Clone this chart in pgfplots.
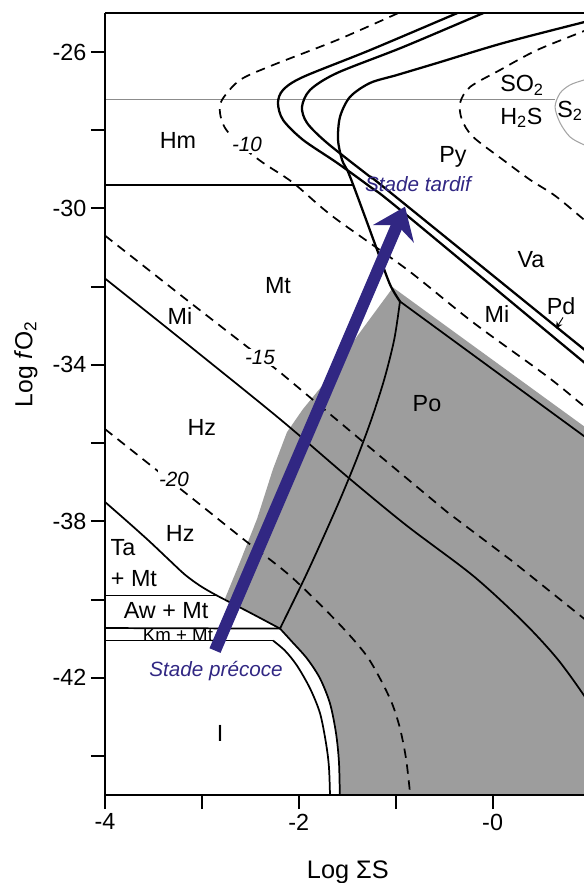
\documentclass[border=0pt]{standalone}
\usepackage{fontspec}
\setmainfont{Liberation Sans}
\usepackage{pgfplots}
\pgfplotsset{compat=1.18}
\usetikzlibrary{arrows.meta}
\definecolor{pofill}{RGB}{157,157,157}
\definecolor{navy}{RGB}{49,39,131}
\definecolor{thingray}{RGB}{140,140,140}
\definecolor{ellgray}{RGB}{165,165,165}
\tikzset{
  lab/.style={font=\fontsize{17.5}{20}\selectfont},
  cont/.style={font=\fontsize{15.5}{18}\selectfont\itshape, fill=white, inner sep=1pt},
  stade/.style={font=\fontsize{15.5}{18}\selectfont\itshape, text=navy},
  ln/.style={black, line width=1.3pt},
  bigln/.style={black, line width=1.7pt},
  dsh/.style={black, line width=1.3pt, dash pattern=on 7pt off 5pt},
}
\begin{document}
\begin{tikzpicture}
\begin{axis}[
  scale only axis, width=359.25pt, height=586.5pt,
  xmin=-4, xmax=0.943, ymin=-45, ymax=-25,
  axis x line*=bottom, axis y line*=left,
  axis line style={line width=1.5pt},
  axis on top,
  tick align=outside,
  major tick length=10.5pt,
  tick style={line width=1.5pt, black},
  xtick={-4,-3,-2,-1,0}, xticklabels={-4,,-2,,-0},
  ytick={-44,-42,-40,-38,-36,-34,-32,-30,-28,-26},
  yticklabels={,-42,,-38,,-34,,-30,,-26},
  tick label style={font=\fontsize{17.5}{20}\selectfont},
  /pgf/number format/assume math mode=true,
  xlabel={Log ΣS},
  xlabel style={at={(axis description cs:0.507,-0.107)}, anchor=base, font=\fontsize{19}{22}\selectfont},
  ylabel={Log \textit{f}O\textsubscript{2}},
  ylabel style={at={(axis description cs:-0.165,0.551)}, anchor=center, font=\fontsize{18.5}{22}\selectfont},
]
% Po field (grey)
\addplot[fill=pofill, draw=none] coordinates {(-1.575,-45.3) (-1.585,-44.19) (-1.616,-43.42) (-1.678,-42.66) (-1.781,-42.02) (-1.915,-41.51) (-2.070,-41.08) (-2.194,-40.744) (-2.504,-40.336) (-2.762,-39.98) (-2.607,-39.04) (-2.431,-37.94) (-2.266,-36.66) (-2.122,-35.72) (-1.957,-35.13) (-1.678,-34.29) (-1.399,-33.27) (-1.028,-32.02) (0.943,-35.57) (1.2,-36.03) (1.2,-45.3)};

% thin grey line and S2 ellipse
\addplot[thingray, line width=0.8pt] coordinates {(-4,-27.224) (0.646,-27.224)};
\addplot[ellgray, line width=0.8pt, smooth] coordinates {(1.108,-26.61) (0.943,-26.714) (0.799,-26.84) (0.696,-27.05) (0.644,-27.40) (0.696,-27.81) (0.799,-28.17) (0.943,-28.37) (1.108,-28.50)};

% horizontal boundaries
\addplot[ln] coordinates {(-4,-29.39) (-1.445,-29.39)};
\addplot[ln] coordinates {(-4,-39.90) (-2.844,-39.90)};
\addplot[ln] coordinates {(-4,-40.73) (-2.194,-40.744)};
\addplot[ln] coordinates {(-4,-41.051) (-2.266,-41.051)};

% Ta line to triple point
\addplot[ln, smooth] coordinates {(-4,-37.505) (-3.742,-38.066) (-3.536,-38.525) (-3.329,-39.01) (-3.174,-39.367) (-3.020,-39.647) (-2.844,-39.90) (-2.504,-40.336) (-2.194,-40.744)};
% white band borders
\addplot[ln, smooth] coordinates {(-2.194,-40.744) (-2.070,-41.08) (-1.915,-41.51) (-1.781,-42.02) (-1.678,-42.66) (-1.616,-43.42) (-1.585,-44.19) (-1.575,-45.3)};
\addplot[ln, smooth] coordinates {(-2.266,-41.051) (-2.142,-41.31) (-2.019,-41.69) (-1.884,-42.275) (-1.781,-42.91) (-1.719,-43.68) (-1.688,-44.32) (-1.675,-45.3)};

% Po boundaries
\addplot[ln] coordinates {(-0.956,-32.377) (0.943,-35.821) (1.315,-36.48)};
\addplot[ln, smooth] coordinates {(-0.956,-32.377) (-1.015,-33.346) (-1.118,-34.367) (-1.250,-35.387) (-1.403,-36.408) (-1.572,-37.428) (-1.754,-38.449) (-1.943,-39.469) (-2.194,-40.744)};

% Mt / Hz line
\addplot[ln, smooth] coordinates {(-4,-31.79) (-3.123,-33.525) (-2.194,-35.387) (-1.472,-36.918) (-0.883,-38.117) (-0.202,-39.392) (0.314,-40.566) (0.665,-41.510) (0.943,-42.454) (1.108,-43.12)};

% dashed contours
\addplot[dsh, smooth] coordinates {(-0.677,-24.67) (-0.976,-25.005) (-1.606,-25.693) (-2.266,-26.331) (-2.607,-26.714) (-2.793,-27.224) (-2.813,-27.556) (-2.762,-27.938) (-2.607,-28.372) (-2.369,-28.831) (-2.060,-29.341) (-1.647,-30.209) (-0.883,-31.561) (-0.202,-32.913) (0.561,-34.290) (0.943,-35.056) (1.315,-35.795)};
\addplot[dsh] coordinates {(-4,-30.693) (-3.123,-32.403) (-2.194,-34.188) (-1.162,-36.331) (-0.471,-37.760) (0.211,-39.035) (0.943,-40.489) (1.315,-41.23)};
\addplot[dsh, smooth] coordinates {(-4,-35.642) (-3.092,-37.428) (-2.576,-38.449) (-2.091,-39.392) (-1.606,-40.566) (-1.317,-41.382) (-1.162,-42.020) (-1.038,-42.658) (-0.956,-43.295) (-0.894,-44.061) (-0.852,-44.954) (-0.842,-45.3)};
\addplot[dsh, smooth] coordinates {(1.315,-25.06) (0.943,-25.46) (0.458,-25.949) (0.076,-26.459) (-0.233,-26.892) (-0.336,-27.301) (-0.316,-27.734) (-0.202,-28.168) (0.107,-28.755) (0.386,-29.265) (0.644,-29.673) (0.943,-30.285) (1.315,-31.05)};

% three large curves
\addplot[bigln, smooth] coordinates {(-0.047,-24.673) (-0.367,-25.005) (-1.265,-25.949) (-1.957,-26.637) (-2.163,-26.969) (-2.215,-27.301) (-2.163,-27.734) (-1.957,-28.244) (-1.606,-28.831) (-1.265,-29.443) (-0.956,-30.030) (0.943,-33.933) (1.315,-34.673)};
\addplot[bigln, smooth] coordinates {(0.221,-24.673) (-0.099,-25.005) (-0.925,-25.872) (-1.606,-26.535) (-1.884,-26.969) (-1.967,-27.403) (-1.915,-27.811) (-1.709,-28.321) (-1.265,-29.188) (-1.090,-29.520) (0.943,-33.602) (1.315,-34.341)};
\addplot[bigln, smooth] coordinates {(1.315,-25.005) (0.943,-25.234) (0.107,-25.770) (-0.574,-26.280) (-0.987,-26.586) (-1.265,-26.790) (-1.472,-27.147) (-1.575,-27.658) (-1.595,-28.244) (-1.554,-28.755) (-1.492,-29.061) (-1.420,-29.520) (-1.306,-30.285) (-1.193,-31.051) (-1.059,-31.944) (-0.956,-32.377)};

% arrows
\addplot[navy, line width=9pt, -{Stealth[length=22pt, width=33pt, inset=7pt]}] coordinates {(-2.865,-41.306) (-0.904,-29.954)};
\addplot[black, line width=0.7pt, -{Stealth[length=5pt, width=5pt]}] coordinates {(0.727,-32.785) (0.654,-33.07)};

% labels
\node[lab] at (axis cs:-3.247,-28.27) {Hm};
\node[cont] at (axis cs:-2.535,-28.37) {-10};
\node[lab] at (axis cs:-2.215,-31.97) {Mt};
\node[lab] at (axis cs:-3.226,-32.74) {Mi};
\node[cont] at (axis cs:-2.400,-33.81) {-15};
\node[lab] at (axis cs:-3.001,-35.59) {Hz};
\node[cont] at (axis cs:-3.288,-36.92) {-20};
\node[lab] at (axis cs:-3.224,-38.30) {Hz};
\node[lab] at (axis cs:-3.814,-38.68) {Ta};
\node[lab] at (axis cs:-3.701,-39.47) {+ Mt};
\node[lab] at (axis cs:-3.370,-40.29) {Aw + Mt};
\node[font=\fontsize{14}{16}\selectfont, inner sep=0pt] at (axis cs:-3.247,-40.90) {Km + Mt};
\node[lab] at (axis cs:-2.813,-43.42) {I};
\node[stade] at (axis cs:-2.854,-41.82) {Stade précoce};
\node[stade] at (axis cs:-0.770,-29.37) {Stade tardif};
\node[lab] at (axis cs:-0.409,-28.68) {Py};
\node[lab, anchor=base west, inner sep=0pt] at (axis cs:0.076,-27.02) {SO\textsubscript{2}};
\node[lab, anchor=base west, inner sep=0pt] at (axis cs:0.076,-27.84) {H\textsubscript{2}S};
\node[lab, anchor=base west, inner sep=0pt] at (axis cs:0.665,-27.66) {S\textsubscript{2}};
\node[lab] at (axis cs:0.396,-31.31) {Va};
\node[lab] at (axis cs:0.045,-32.71) {Mi};
\node[lab] at (axis cs:0.706,-32.50) {Pd};
\node[lab] at (axis cs:-0.677,-34.98) {Po};

\coordinate (A) at (rel axis cs:0,0);
\coordinate (TL) at (rel axis cs:0,1);
\coordinate (TR) at (rel axis cs:1,1);
\end{axis}
\draw[line width=1.5pt] (TL) -- (TR);
\pgfresetboundingbox
\path (A) ++(-78.75pt,-66pt) rectangle ++(438pt,662.25pt);
\end{tikzpicture}
\end{document}
